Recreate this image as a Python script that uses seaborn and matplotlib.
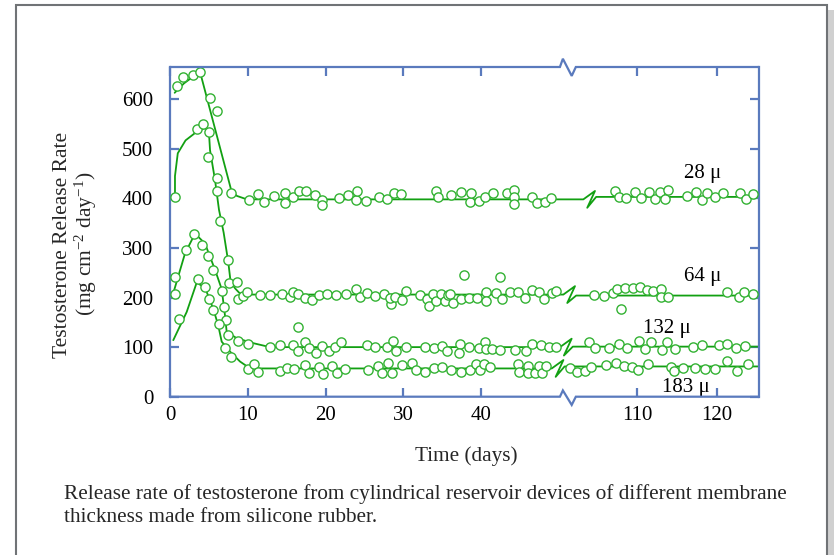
import numpy as np
import pandas as pd
import matplotlib
matplotlib.use("Agg")
import matplotlib.pyplot as plt
import seaborn as sns
from matplotlib.patches import Rectangle
from matplotlib.lines import Line2D

# ---------------- data ----------------
membranes = ["28 \u03bc", "64 \u03bc", "132 \u03bc", "183 \u03bc"]

time_28 = [0.9, 1.7, 3.0, 3.9, 5.1, 6.0, 7.9, 10.2, 11.3, 12.1, 13.4, 14.8, 14.8, 15.8, 16.6, 17.5, 18.6,
           19.5, 19.5, 21.8, 22.9, 23.9, 24.0, 25.2, 26.9, 27.9, 28.8, 29.7, 34.2, 34.5, 36.2, 37.4, 38.6,
           38.7, 39.7, 40.5, 41.5, 43.3, 44.2, 44.2, 44.2, 46.6, 47.2, 48.2, 49.0,
           107.25, 107.7, 108.6, 109.7, 110.5, 111.5, 112.2, 112.9, 113.5, 113.9, 116.3, 117.4, 118.1,
           118.7, 119.7, 120.7, 122.9, 123.6, 124.5]
rate_28 = [627, 645, 649, 654, 603, 576, 410, 396, 408, 393, 404, 410, 390, 402, 414, 414, 407,
           397, 386, 400, 406, 396, 415, 395, 403, 399, 411, 408, 414, 402, 406, 413, 392,
           410, 394, 402, 410, 410, 416, 402, 388, 402, 390, 392, 400,
           415, 402, 400, 413, 400, 413, 398, 413, 398, 416, 405, 413, 397,
           410, 403, 410, 410, 398, 408]

time_64 = [0.64, 3.43, 4.2, 5.06, 4.93, 6.1, 6.1, 6.43, 7.42, 7.6, 8.57, 8.79, 9.4, 9.95, 11.6, 12.9,
           14.4, 15.4, 15.8, 16.5, 17.35, 18.2, 19.1, 20.2, 21.4, 22.6, 23.9, 24.4, 25.4, 26.4, 27.5,
           28.4, 28.3, 29.0, 29.9, 30.4, 32.2, 33.1, 33.3, 33.8, 34.2, 34.8, 35.4, 35.8, 36.0, 36.4,
           37.4, 37.8, 38.5, 39.5, 40.6, 40.6, 41.9, 42.4, 42.7, 43.7, 44.8, 45.6, 46.6, 47.5, 48.1,
           49.1, 49.7,
           104.6, 105.9, 107.0, 107.5, 108.0, 108.5, 109.5, 110.4, 111.2, 112.0, 113.0, 113.0, 113.9,
           121.3, 122.7, 123.4, 124.5]
rate_64 = [402, 540, 551, 534, 484, 441, 415, 354, 276, 230, 231, 198, 204, 212, 206, 206,
           208, 202, 212, 207, 200, 195, 205, 207, 206, 208, 218, 202, 210, 204, 208,
           186, 200, 202, 195, 213, 205, 197, 182, 207, 194, 208, 194, 205, 207, 190,
           198, 246, 200, 200, 211, 194, 210, 241, 198, 212, 212, 200, 215, 212, 198,
           210, 213,
           205, 204, 210, 217, 177, 219, 220, 222, 215, 213, 217, 202, 202,
           211, 202, 212, 208]

time_132 = [0.64, 0.64, 2.06, 3.13, 4.08, 4.93, 5.57, 6.65, 6.98, 7.2, 7.5, 8.8, 10.07, 12.8, 14.1,
            15.8, 16.5, 16.5, 17.4, 17.9, 18.8, 19.6, 20.4, 21.2, 22.0, 25.3, 26.4, 27.9, 28.7, 29.1,
            30.4, 32.8, 34.0, 35.0, 35.6, 37.3, 37.2, 38.5, 39.8, 40.5, 40.6, 41.4, 42.5, 44.4, 45.8,
            46.5, 47.7, 48.7, 49.7,
            104.0, 104.75, 106.5, 107.7, 108.8, 110.3, 111.0, 111.8, 113.1, 113.7, 114.75, 117.0,
            118.1, 120.2, 121.3, 122.4, 123.5]
rate_132 = [241, 207, 296, 329, 306, 284, 255, 213, 180, 155, 124, 112, 106, 101, 105,
            105, 93, 141, 110, 98, 89, 103, 93, 101, 110, 105, 101, 101, 113, 93,
            100, 101, 98, 103, 93, 106, 88, 101, 98, 111, 96, 97, 95, 95, 93,
            107, 105, 101, 100,
            111, 99, 99, 107, 98, 113, 97, 110, 95, 110, 96, 100,
            105, 105, 107, 98, 103]

time_183 = [1.2, 3.64, 4.5, 5.06, 5.57, 6.3, 7.07, 7.85, 10.07, 10.85, 11.27, 14.1, 15.0, 16.0, 17.3,
            17.9, 19.2, 19.7, 20.9, 21.5, 22.5, 25.5, 26.8, 27.3, 28.1, 28.6, 29.9, 31.1, 31.6, 32.8,
            33.9, 35.0, 36.2, 37.4, 38.6, 39.3, 39.9, 40.4, 41.1, 44.8, 44.9, 46.1, 46.0, 46.9, 47.5,
            47.8, 48.4,
            101.6, 102.5, 103.5, 104.3, 106.1, 107.4, 108.4, 109.4, 110.1, 111.4, 114.3, 114.6, 115.8,
            117.25, 118.5, 119.75, 121.2, 122.5, 123.9]
rate_183 = [157, 238, 222, 197, 174, 146, 98, 81, 55, 65, 50, 52, 57, 56, 63,
            47, 60, 45, 62, 47, 56, 54, 62, 47, 68, 47, 63, 68, 54, 50,
            58, 60, 53, 50, 54, 66, 54, 66, 60, 66, 50, 62, 47, 47, 62,
            47, 62,
            58, 50, 52, 60, 63, 67, 62, 60, 54, 65, 60, 52, 57,
            57, 55, 56, 71, 52, 65]

# fitted curves (early part) and plateau levels
fit_time_28 = [0.6, 1.8, 3.0, 3.9, 7.9, 8.6, 9.9]
fit_rate_28 = [613, 632, 646, 653, 415, 405, 398]
fit_time_64 = [0.64, 0.64, 1.0, 2.0, 3.4, 4.5, 5.0, 5.15, 5.8, 6.3, 6.9, 7.5, 7.8, 8.4, 9.0, 10.1]
fit_rate_64 = [405, 445, 491, 517, 534, 542, 535, 497, 436, 377, 331, 271, 231, 218, 208, 206]
fit_time_132 = [0.35, 1.93, 3.22, 4.5, 5.79, 6.65, 7.07, 7.29, 8.57, 10.7, 12.86]
fit_rate_132 = [205, 289, 329, 309, 256, 217, 164, 131, 118, 108, 100]
fit_time_183 = [0.42, 2.15, 3.43, 4.5, 5.57, 6.2, 6.65, 7.72, 9.0, 10.3]
fit_rate_183 = [114, 171, 230, 220, 177, 144, 111, 91, 71, 57]
plateau_left = [398, 206, 100, 57]
plateau_right = [403, 204, 101, 61]

x_ticks = [0, 10, 20, 30, 40, 110, 120]
y_ticks = [0, 100, 200, 300, 400, 500, 600]

# ---------------- layout / style ----------------
B1, B2 = 51.06, 101.25          # axis break (left end, right start)
K = 8.0 / 7.775                  # relative day width right of the break
X_MAX = 125.25
zig_start_u = [53.16, 50.59, 50.16, 49.1]
label_pos = [(118.25, 450), (118.25, 243), (113.75, 137), (116.1, 18)]

BLUE = "#5a7abd"
GREEN_PT = "#33b233"
GREEN_LN = "#12a012"
FS = 15


def fwd(t):
    t = np.asarray(t, dtype=float)
    return np.where(t <= B1, t, np.where(t >= B2, B1 + (t - B2) * K, B1))


def inv(u):
    u = np.asarray(u, dtype=float)
    return np.where(u <= B1, u, B2 + (u - B1) / K)


sns.set_theme(style="white")
plt.rcParams["font.family"] = ["Liberation Serif", "DejaVu Serif"]
plt.rcParams["mathtext.fontset"] = "custom"
plt.rcParams["mathtext.rm"] = "Liberation Serif"
plt.rcParams["mathtext.it"] = "Liberation Serif:italic"

fig = plt.figure(figsize=(8.35, 5.55), dpi=100)
ax = fig.add_axes([170 / 835, 1 - 396.7 / 555, 589 / 835, 329.7 / 555])

times = [time_28, time_64, time_132, time_183]
rates = [rate_28, rate_64, rate_132, rate_183]
fit_times = [fit_time_28, fit_time_64, fit_time_132, fit_time_183]
fit_rates = [fit_rate_28, fit_rate_64, fit_rate_132, fit_rate_183]

pts = pd.concat([pd.DataFrame({"time": t, "rate": r, "membrane": m})
                 for t, r, m in zip(times, rates, membranes)], ignore_index=True)

zig_du = np.array([0.0, 1.5, 0.5, 1.65])
zig_dv = np.array([0.0, 17.0, -17.0, 0.0])
for i in range(4):
    zt = inv(zig_start_u[i] + zig_du)
    zv = plateau_left[i] + zig_dv
    zv[-1] = plateau_right[i]
    lt = np.concatenate([fit_times[i], zt, [X_MAX]])
    lv = np.concatenate([fit_rates[i], zv, [plateau_right[i]]])
    sns.lineplot(x=lt, y=lv, sort=False, estimator=None, color=GREEN_LN, lw=1.3, ax=ax, zorder=2)

sns.scatterplot(data=pts, x="time", y="rate", ax=ax, marker="o", s=44,
                facecolor="white", edgecolor=GREEN_PT, linewidth=1.0, zorder=3, legend=False)

ax.set_xscale("function", functions=(fwd, inv))
ax.set_xlim(0, X_MAX)
ax.set_ylim(0, 665)
ax.set_xticks(x_ticks)
ax.set_xticklabels([str(v) for v in x_ticks])
ax.set_yticks(y_ticks)
ax.set_yticklabels([str(v) for v in y_ticks])
ax.set_xlabel("")
ax.set_ylabel("")
ax.tick_params(axis="both", direction="in", length=6.5, width=1.6, color=BLUE,
               labelsize=FS, labelcolor="black")
ax.tick_params(axis="x", top=True, bottom=True, pad=6.5)
ax.tick_params(axis="y", left=True, right=True, pad=12)

for side in ["left", "right"]:
    ax.spines[side].set_color(BLUE)
    ax.spines[side].set_linewidth(1.6)
for side in ["top", "bottom"]:
    ax.spines[side].set_visible(False)

bf = float(fwd(B1) / fwd(X_MAX))
ax.add_line(Line2D([0, bf - 0.012, bf - 0.007, bf + 0.008, bf + 0.015, 1],
                   [1, 1, 1.025, 0.973, 1, 1], transform=ax.transAxes, clip_on=False,
                   color=BLUE, lw=1.6, solid_joinstyle="miter", zorder=5))
ax.add_line(Line2D([0, bf - 0.012, bf - 0.007, bf + 0.008, bf + 0.015, 1],
                   [0, 0, 0.019, -0.025, 0, 0], transform=ax.transAxes, clip_on=False,
                   color=BLUE, lw=1.6, solid_joinstyle="miter", zorder=5))

for (lx, ly), name in zip(label_pos, membranes):
    ax.text(lx, ly, name, ha="center", va="center", fontsize=FS, color="black")

fig.text(63 / 835, 1 - 245 / 555, "Testosterone Release Rate", rotation=90,
         ha="center", va="center", fontsize=15.5)
fig.text(86 / 835, 1 - 244 / 555, "(mg cm$^{-2}$ day$^{-1}$)", rotation=90,
         ha="center", va="center", fontsize=15.5)
fig.text(466 / 835, 1 - 456 / 555, "Time (days)", ha="center", va="center", fontsize=15.3)
fig.text(64 / 835, 1 - 484 / 555,
         "Release rate of testosterone from cylindrical reservoir devices of different membrane\n"
         "thickness made from silicone rubber.",
         ha="left", va="top", fontsize=15.3, linespacing=1.32)

fig.add_artist(Rectangle((828 / 835, -0.05), 6 / 835, 1.05 - 10 / 555,
                         transform=fig.transFigure, facecolor="#d0d0d0", edgecolor="none"))
fig.add_artist(Rectangle((16 / 835, -0.05), (827 - 16) / 835, 1.05 - 5 / 555,
                         transform=fig.transFigure, fill=False, edgecolor="#707376", lw=1.5))

fig.savefig("out.png", dpi=100)
